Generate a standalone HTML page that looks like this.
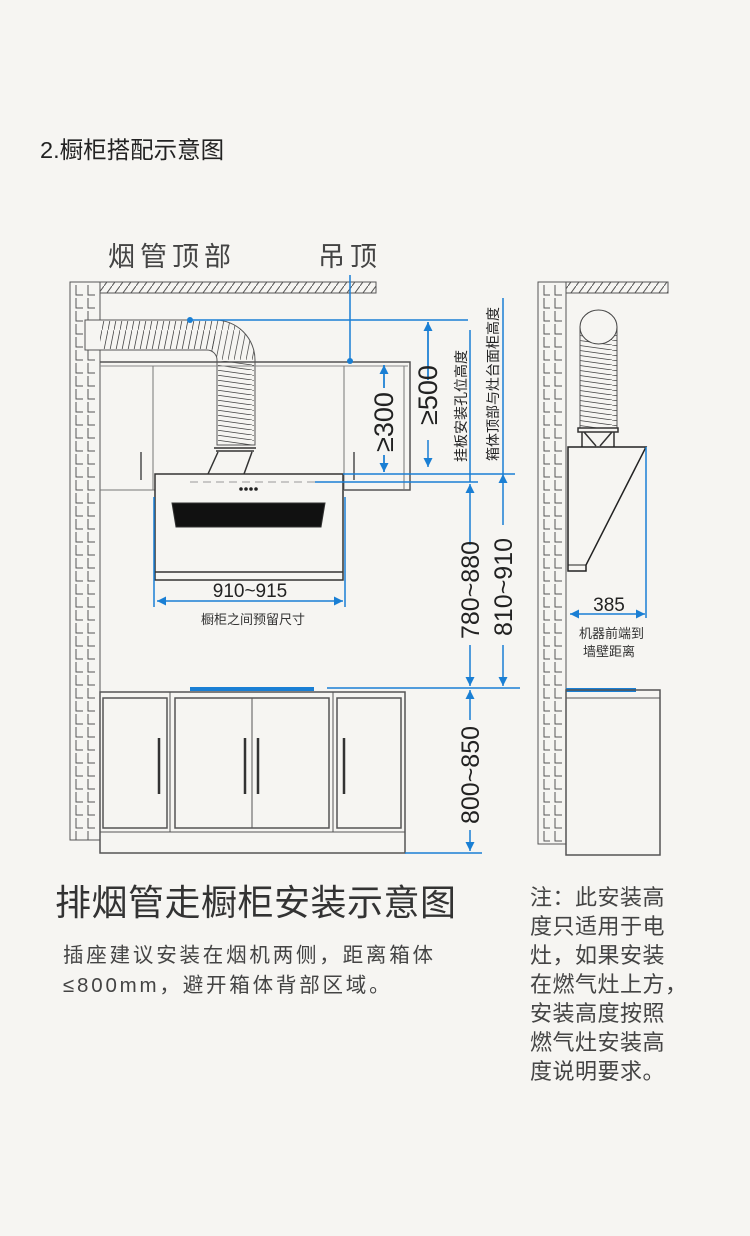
<!DOCTYPE html>
<html><head><meta charset="utf-8"><style>
html,body{margin:0;padding:0;background:#f6f5f2;}
svg{display:block;}
text{font-family:"Liberation Sans","Noto Sans CJK SC",sans-serif;}
</style></head><body>
<svg width="750" height="1236" viewBox="0 0 750 1236" xmlns="http://www.w3.org/2000/svg">
<defs>
<pattern id="brick" x="70" y="284" width="30" height="13" patternUnits="userSpaceOnUse">
<path d="M6 1V11H13M18 1V11H25" fill="none" stroke="#555" stroke-width="1"/>
</pattern>
<pattern id="brick2" x="538" y="284" width="28" height="13" patternUnits="userSpaceOnUse">
<path d="M6 1V11H12M17 1V11H24" fill="none" stroke="#555" stroke-width="1"/>
</pattern>
<pattern id="hatch" width="8" height="11" patternUnits="userSpaceOnUse">
<path d="M0 11L8 0" stroke="#555" stroke-width="1"/>
</pattern>
<pattern id="duct" width="6" height="30" patternUnits="userSpaceOnUse">
<path d="M0 30L6 0" stroke="#444" stroke-width="0.8"/>
</pattern>
<pattern id="ductv" width="36" height="5" patternUnits="userSpaceOnUse">
<path d="M0 0L36 5" stroke="#444" stroke-width="0.8"/>
</pattern>
<marker id="ar" viewBox="0 0 10 10" refX="10" refY="5" markerWidth="9" markerHeight="9" orient="auto-start-reverse" markerUnits="userSpaceOnUse">
<path d="M0 0L10 5L0 10z" fill="#1a7fd4"/>
</marker>
</defs>

<text x="40" y="158" font-size="23.5" fill="#222">2.橱柜搭配示意图</text>
<text x="108" y="266" font-size="27" fill="#444" letter-spacing="5">烟管顶部</text>
<text x="318" y="266" font-size="27" fill="#444" letter-spacing="5">吊顶</text>

<!-- left wall -->
<rect x="70" y="282" width="30" height="558" fill="url(#brick)" stroke="#555"/>
<rect x="100" y="282" width="276" height="11" fill="url(#hatch)" stroke="#555"/>

<!-- duct -->
<path d="M85 320H215A40 40 0 0 1 255 360V445H217V360A10 10 0 0 0 207 350H85Z" fill="#f6f5f2" stroke="#555"/>
<rect x="100" y="321" width="115" height="28" fill="url(#duct)"/>
<path d="M215 320A40 40 0 0 1 255 360H217A10 10 0 0 0 207 350Z" fill="url(#duct)" opacity="0.9"/>
<rect x="218" y="361" width="36" height="84" fill="url(#ductv)"/>

<!-- upper cabinet -->
<path d="M100 362H410V490H344" fill="none" stroke="#555" stroke-width="1.5"/>
<path d="M100 366H408" stroke="#888"/>
<path d="M100 490H155M153 366V490M344 366V490M404 366V490" fill="none" stroke="#777"/>
<path d="M141 452V480M354 452V480" stroke="#777" stroke-width="2"/>
<!-- bracket -->
<path d="M214 448H256M218 452L208 474M252 452L244 474M216 451H254" fill="none" stroke="#333" stroke-width="1.5"/>
<!-- hood -->
<rect x="155" y="474" width="188" height="106" fill="#f6f5f2" stroke="#333" stroke-width="1.5"/>
<path d="M155 572H343" stroke="#333" stroke-width="1.5"/>
<path d="M190 482H315" stroke="#999" stroke-dasharray="8 5"/>
<circle cx="241" cy="489" r="1.8" fill="#222"/><circle cx="246" cy="489" r="1.8" fill="#222"/><circle cx="251" cy="489" r="1.8" fill="#222"/><circle cx="256" cy="489" r="1.8" fill="#222"/>
<path d="M172 503H325L321 527H176Z" fill="#111" stroke="#333"/>

<!-- base cabinet -->
<rect x="100" y="692" width="305" height="161" fill="none" stroke="#555" stroke-width="1.5"/>
<path d="M100 832H405M170 692V832M333 692V832" stroke="#555"/>
<rect x="103" y="698" width="64" height="130" fill="none" stroke="#555" stroke-width="1.5"/>
<rect x="175" y="698" width="154" height="130" fill="none" stroke="#555" stroke-width="1.5"/>
<path d="M252 698V828" stroke="#555"/>
<rect x="337" y="698" width="64" height="130" fill="none" stroke="#555" stroke-width="1.5"/>
<path d="M159 738V794M245 738V794M258 738V794M344 738V794" stroke="#333" stroke-width="2.5"/>
<rect x="190" y="687" width="124" height="4" fill="#1a7fd4"/>

<!-- blue dims -->
<g stroke="#1a7fd4" stroke-width="1.5" fill="none">
<path d="M190 320H468"/>
<path d="M350 275V361"/>
<path d="M428 322V380M428 440V467" marker-end="url(#ar)"/>
<path d="M428 380V322" marker-end="url(#ar)"/>
<path d="M384 365V388M384 455V472"/>
<path d="M384 388V365" marker-end="url(#ar)"/>
<path d="M384 455V472" marker-end="url(#ar)"/>
<path d="M343 474H515M315 482H478"/>
<path d="M470 545V484" marker-end="url(#ar)"/>
<path d="M503 525V474" marker-end="url(#ar)"/>
<path d="M470 645V686" marker-end="url(#ar)"/>
<path d="M503 645V686" marker-end="url(#ar)"/>
<path d="M470 330V482M503 298V474"/>
<path d="M327 688H520"/>
<path d="M470 720V690" marker-end="url(#ar)"/>
<path d="M470 830V851" marker-end="url(#ar)"/>
<path d="M405 853H482"/>
<path d="M154 497V607M345 497V607"/>
<path d="M250 601H157" marker-end="url(#ar)"/>
<path d="M250 601H343" marker-end="url(#ar)"/>
</g>
<circle cx="190" cy="320" r="3" fill="#1a7fd4"/>
<circle cx="350" cy="361" r="3" fill="#1a7fd4"/>

<text x="250" y="597" font-size="19" fill="#222" text-anchor="middle">910~915</text>
<text x="253" y="624" font-size="13" fill="#333" text-anchor="middle">橱柜之间预留尺寸</text>
<text transform="translate(437,395) rotate(-90)" font-size="27" fill="#222" text-anchor="middle">≥500</text>
<text transform="translate(393,422) rotate(-90)" font-size="27" fill="#222" text-anchor="middle">≥300</text>
<text transform="translate(466,406) rotate(-90)" font-size="14" fill="#222" text-anchor="middle">挂板安装孔位高度</text>
<text transform="translate(498,384) rotate(-90)" font-size="14" fill="#222" text-anchor="middle">箱体顶部与灶台面柜高度</text>
<text transform="translate(479,590) rotate(-90)" font-size="25" fill="#222" text-anchor="middle">780~880</text>
<text transform="translate(512,587) rotate(-90)" font-size="25" fill="#222" text-anchor="middle">810~910</text>
<text transform="translate(479,775) rotate(-90)" font-size="25" fill="#222" text-anchor="middle">800~850</text>

<!-- right side -->
<rect x="538" y="282" width="28" height="562" fill="url(#brick2)" stroke="#555"/>
<rect x="566" y="282" width="102" height="11" fill="url(#hatch)" stroke="#555"/>
<rect x="580" y="327" width="37" height="101" fill="url(#ductv)" stroke="#555"/>
<ellipse cx="598.5" cy="327" rx="18.5" ry="17" fill="#f6f5f2" stroke="#444"/>
<path d="M578 428H618V432H578ZM582 432V447M614 432V447M584 432L596 446M612 432L600 446" fill="none" stroke="#333" stroke-width="1.5"/>
<path d="M568 447H646L586 565V571H568Z" fill="#f6f5f2" stroke="#222" stroke-width="1.5"/>
<path d="M568 565H586" stroke="#222"/>
<g stroke="#1a7fd4" stroke-width="1.5" fill="none">
<path d="M646 447V618"/>
<path d="M607 614H570" marker-end="url(#ar)"/>
<path d="M607 614H645" marker-end="url(#ar)"/>
</g>
<text x="609" y="611" font-size="19" fill="#222" text-anchor="middle">385</text>
<text x="579" y="638" font-size="13" fill="#333">机器前端到</text>
<text x="583" y="656" font-size="13" fill="#333">墙壁距离</text>
<rect x="566" y="688" width="70" height="4" fill="#1a7fd4"/>
<rect x="566" y="690" width="94" height="165" fill="none" stroke="#555" stroke-width="1.5"/>
<path d="M566 698H660" stroke="#555"/>

<!-- bottom text -->
<text x="55" y="915" font-size="36" fill="#333" letter-spacing="0.5">排烟管走橱柜安装示意图</text>
<text x="63" y="962" font-size="20.5" fill="#444" letter-spacing="2.8">插座建议安装在烟机两侧，距离箱体</text>
<text x="63" y="992" font-size="20.5" fill="#444" letter-spacing="2.8">≤800mm，避开箱体背部区域。</text>
<g font-size="22" fill="#444" letter-spacing="0.5">
<text x="530" y="905">注：此安装高</text>
<text x="530" y="934">度只适用于电</text>
<text x="530" y="963">灶，如果安装</text>
<text x="530" y="992">在燃气灶上方，</text>
<text x="530" y="1021">安装高度按照</text>
<text x="530" y="1050">燃气灶安装高</text>
<text x="530" y="1079">度说明要求。</text>
</g>
</svg>
</body></html>
